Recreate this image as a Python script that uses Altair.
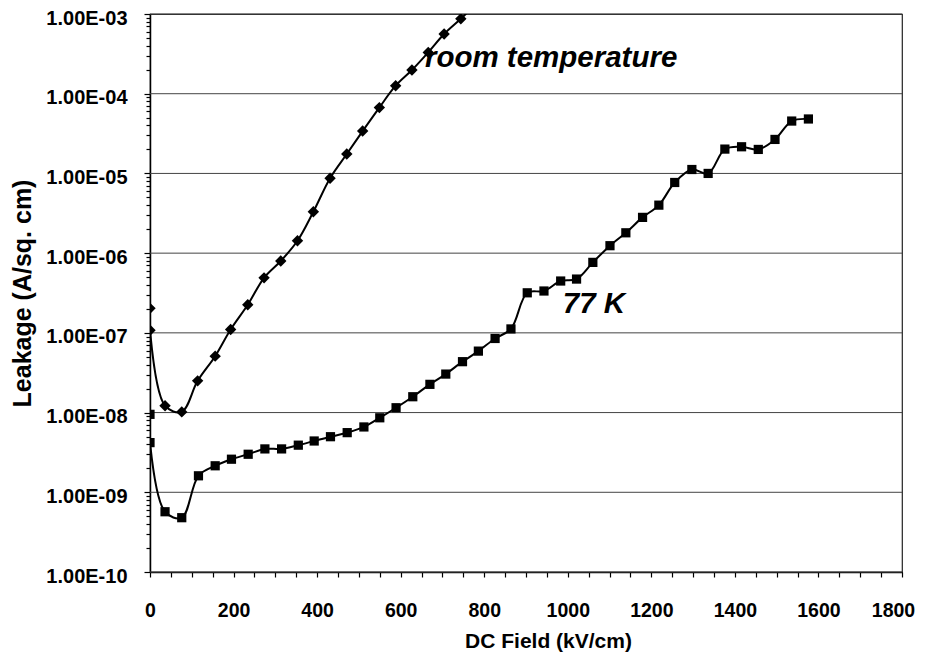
import altair as alt
import pandas as pd

# Room temperature series (diamonds)
rt_field = [0, 0, 36, 76, 114, 156, 193, 234, 273, 313, 353, 391, 431, 471, 509, 549, 588, 627, 666, 704, 744, 784]
rt_leak = [2.03e-7, 1.08e-7, 1.22e-8, 1.02e-8, 2.5e-8, 5.1e-8, 1.1e-7, 2.25e-7, 4.9e-7, 7.96e-7, 1.43e-6,
           3.3e-6, 8.7e-6, 1.75e-5, 3.4e-5, 6.7e-5, 1.26e-4, 1.98e-4, 3.3e-4, 5.6e-4, 8.7e-4, 1.4e-3]

# 77 K series (squares)
k77_field = [0, 0, 36, 76, 116, 156, 195, 235, 275, 315, 355, 393, 432, 472, 512, 550, 589, 629, 670, 708,
             748, 786, 826, 864, 903, 943, 983, 1021, 1060, 1101, 1139, 1179, 1218, 1256, 1297, 1336, 1376,
             1416, 1456, 1496, 1536, 1576]
k77_leak = [9.5e-9, 4.2e-9, 5.7e-10, 4.8e-10, 1.61e-9, 2.15e-9, 2.6e-9, 3.0e-9, 3.5e-9, 3.5e-9, 3.9e-9,
            4.4e-9, 4.98e-9, 5.6e-9, 6.6e-9, 8.6e-9, 1.15e-8, 1.58e-8, 2.26e-8, 3.04e-8, 4.35e-8, 5.9e-8,
            8.5e-8, 1.12e-7, 3.18e-7, 3.35e-7, 4.47e-7, 4.73e-7, 7.66e-7, 1.24e-6, 1.8e-6, 2.81e-6, 4.0e-6,
            7.7e-6, 1.12e-5, 1.0e-5, 2.02e-5, 2.16e-5, 2.0e-5, 2.67e-5, 4.54e-5, 4.82e-5]

decades = [1e-10, 1e-9, 1e-8, 1e-7, 1e-6, 1e-5, 1e-4, 1e-3]
x_ticks = list(range(0, 1801, 50))
y_ticks = [m * 10.0 ** e for e in range(-10, -3) for m in range(1, 10)] + [1e-3]

labels_text = ["room temperature", "77 K"]
labels_x = [658, 988]
labels_y = [2.18e-4, 1.77e-7]

FONT = "Liberation Sans"

rows = []
for i, (f, v) in enumerate(zip(rt_field, rt_leak)):
    rows.append({"series": "room temperature", "field": f, "leak": v, "i": i})
for i, (f, v) in enumerate(zip(k77_field, k77_leak)):
    rows.append({"series": "77 K", "field": f, "leak": v, "i": i})
df = pd.DataFrame(rows)

grid_df = pd.DataFrame({"leak": decades})
lab_df = pd.DataFrame({"text": labels_text, "field": labels_x, "leak": labels_y})

xscale = alt.Scale(domain=[0, 1800], nice=False, zero=False)
yscale = alt.Scale(type="log", domain=[1e-10, 1e-3], nice=False)

is_decade = "abs(log(datum.value)/LN10 - round(log(datum.value)/LN10)) < 0.01"
ylabel = (is_decade + " ? '1.00E-' + (-round(log(datum.value)/LN10) < 10 ? '0' : '') + "
          "(-round(log(datum.value)/LN10)) : ''")

x_axis = alt.Axis(values=x_ticks, title="DC Field (kV/cm)", grid=False,
                  labelExpr="datum.value % 200 == 0 ? datum.label : ''",
                  format="d", labelFont=FONT, labelFontSize=19.5, labelFontWeight="bold",
                  labelOffset={"condition": {"test": "datum.value >= 1800", "value": -9}, "value": 0},
                  labelPadding=24, tickSize=5, tickColor="black", tickWidth=1.2,
                  domainColor="black", domainWidth=1.5, labelColor="black",
                  titleFont=FONT, titleFontSize=21, titleFontWeight="bold",
                  titleColor="black", titleX=398, titleY=75, titleAlign="center",
                  titleBaseline="alphabetic", labelFlush=False, labelOverlap=False)
y_axis = alt.Axis(values=y_ticks, title="Leakage (A/sq. cm)", grid=False,
                  labelExpr=ylabel, labelFont=FONT, labelFontSize=20,
                  labelFontWeight="bold", labelPadding=17, labelOffset=4,
                  tickSize={"condition": {"test": is_decade, "value": 6}, "value": 4},
                  tickColor="black", tickWidth=1.2, domainColor="black", domainWidth=1.5,
                  labelColor="black", titleFont=FONT, titleFontSize=25,
                  titleFontWeight="bold", titleColor="black", titleX=-120, titleY=279,
                  titleAngle=-90, titleAlign="center", titleBaseline="alphabetic",
                  labelOverlap=False, labelFlush=False)

x_enc = alt.X("field:Q", scale=xscale, axis=x_axis)
y_enc = alt.Y("leak:Q", scale=yscale, axis=y_axis)

grid = alt.Chart(grid_df).mark_rule(color="#444444", strokeWidth=1).encode(
    y=y_enc
)

lines = alt.Chart(df).mark_line(color="black", strokeWidth=2, interpolate="catmull-rom",
                                clip=True).encode(
    x=x_enc, y=y_enc, detail="series:N", order="i:Q"
)

points = alt.Chart(df).mark_point(filled=True, color="black", opacity=1, clip=True).encode(
    x=x_enc,
    y=y_enc,
    shape=alt.Shape("series:N", scale=alt.Scale(domain=["room temperature", "77 K"],
                                                 range=["diamond", "square"]), legend=None),
    size=alt.Size("series:N", scale=alt.Scale(domain=["room temperature", "77 K"],
                                               range=[130, 85]), legend=None),
)

texts = alt.Chart(lab_df).mark_text(font=FONT, fontSize=29.5, fontWeight="bold", fontStyle="italic",
                                    align="left", baseline="alphabetic", color="black").encode(
    x=x_enc,
    y=y_enc,
    text="text:N",
)

chart = alt.layer(grid, lines, points, texts).properties(
    width=752, height=558,
    autosize=alt.AutoSizeParams(type="none"),
    padding={"left": 142, "top": 6, "right": 16, "bottom": 84},
    background="white",
).configure_view(stroke="#222222", strokeWidth=1.2)

chart.save("out.html", embed_options={"renderer": "svg", "actions": False})
